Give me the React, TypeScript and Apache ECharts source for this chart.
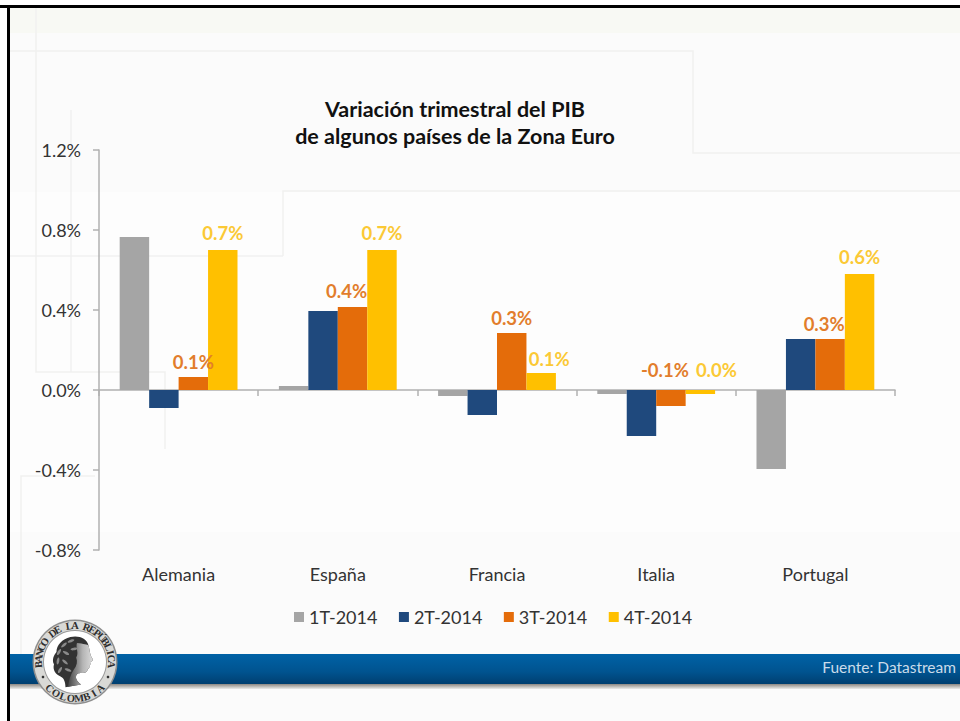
import React, { useEffect, useRef } from "react";
import * as echarts from "echarts";

const titleLines = ["Variación trimestral del PIB", "de algunos países de la Zona Euro"];
const countries = ["Alemania", "España", "Francia", "Italia", "Portugal"];
const seriesNames = ["1T-2014", "2T-2014", "3T-2014", "4T-2014"];
const t1 = [0.765, 0.02, -0.03, -0.02, -0.395];
const t2 = [-0.09, 0.395, -0.125, -0.23, 0.255];
const t3 = [0.065, 0.415, 0.285, -0.08, 0.255];
const t4 = [0.7, 0.7, 0.085, -0.02, 0.58];
const t3Labels = ["0.1%", "0.4%", "0.3%", "-0.1%", "0.3%"];
const t4Labels = ["0.7%", "0.7%", "0.1%", "0.0%", "0.6%"];
const source = "Fuente: Datastream";

const colors = ["#A5A5A5", "#1F497D", "#E46C0A", "#FFC000"];
const t3LabelOffsets = [[0, -1], [-6, -2], [0, -1], [-6, -6], [-6, -1]];
const t4LabelOffsets = [[0, -3], [0, -3], [8, 0], [16, -6], [0, -3]];
const FONT = "Lato";

const headPath = "M20 0C30 -3 40 2 42 12C44 20 43 24 47 32C48 35 46 36 44 37C45 40 44 42 43 43C44 45 42 47 41 47C41 51 39 53 35 53C31 53 28 53 27 57C26 62 29 66 33 70L14 74C14 66 12 60 8 58C2 55 -2 48 0 40C-3 34 0 26 3 22C3 12 10 3 20 0Z";
const facePath = "M28 9C36 10 41 12 42 12C44 20 43 24 47 32C48 35 46 36 44 37C45 40 44 42 43 43C44 45 42 47 41 47C41 51 39 53 35 53C31 53 28 53 27 57C26 62 29 66 33 70L17 73C18 64 20 56 24 48C28 42 29 36 27 30C31 24 26 16 28 9Z";
echarts.graphic.registerShape("bankHair", echarts.graphic.extendPath(headPath as any, {}) as any);
echarts.graphic.registerShape("bankFace", echarts.graphic.extendPath(facePath as any, {}) as any);

function faintLine(points: number[][]) {
  return {
    type: "polyline", z: -5, silent: true,
    shape: { points },
    style: { stroke: "#f1f1f0", lineWidth: 1.5, fill: "none" },
  };
}

function arcLetters(text: string, cx: number, cy: number, r: number, from: number, to: number, bottom: boolean) {
  const letters = Array.from(text);
  return letters.map((ch, i) => {
    const a = ((from + ((to - from) * i) / (letters.length - 1)) * Math.PI) / 180;
    return {
      type: "text", z: 30, silent: true,
      x: cx + r * Math.sin(a),
      y: bottom ? cy + r * Math.cos(a) : cy - r * Math.cos(a),
      rotation: bottom ? a : -a,
      style: {
        text: ch, fill: "#2e2e2e", font: "bold 10.5px 'Liberation Serif'",
        align: "center", verticalAlign: "middle",
      },
    };
  });
}

const leaves = [[64, 645, 40], [71, 641, 20], [59, 652, 60], [66, 653, -30], [58, 661, 80], [65, 662, -40], [60, 670, 60], [68, 670, -20], [74, 649, 10]];

export default function App() {
  const ref = useRef<HTMLDivElement>(null);
  useEffect(() => {
    document.body.style.margin = "0";
    document.body.style.background = "#fff";
    const chart = echarts.init(ref.current!, undefined, { renderer: "svg" });
    const cx = 75, cy = 662;
    const makeData = (vals: number[], labels?: string[], offsets?: number[][], color?: string) =>
      vals.map((v, i) =>
        labels
          ? {
              value: v,
              label: {
                show: true, position: "top", formatter: labels[i], offset: offsets![i],
                color, fontFamily: FONT, fontWeight: "bold", fontSize: 18.5,
              },
            }
          : v
      );
    const vals = [t1, t2, t3, t4];
    chart.setOption({
      animation: false,
      title: {
        text: titleLines.join("\n"), left: 450, top: 90, textAlign: "center",
        textStyle: { fontFamily: FONT, fontWeight: "bold", fontSize: 21.5, color: "#111", lineHeight: 27 },
      },
      legend: {
        data: seriesNames, left: 289, top: 603, itemWidth: 10, itemHeight: 10, icon: "rect", itemGap: 21.5,
        textStyle: { fontFamily: FONT, fontSize: 18, color: "#333", padding: [0, 0, 0, 0] },
      },
      grid: { left: 99, right: 65, top: 150, bottom: 171 },
      xAxis: [
        {
          type: "category", data: countries,
          axisLine: { onZero: true, lineStyle: { color: "#b0b0b0", width: 1.5 } },
          axisTick: { show: true, length: 6, lineStyle: { color: "#b0b0b0", width: 1.5 } },
          axisLabel: { show: false },
        },
        {
          type: "category", data: countries, position: "bottom",
          axisLine: { show: false, onZero: false }, axisTick: { show: false },
          axisLabel: { margin: 15, fontFamily: FONT, fontSize: 18, color: "#333" },
        },
      ],
      yAxis: {
        type: "value", min: -0.8, max: 1.2, interval: 0.4,
        axisLine: { show: true, lineStyle: { color: "#b0b0b0", width: 1.5 } },
        axisTick: { show: true, length: 6, lineStyle: { color: "#b0b0b0", width: 1.5 } },
        splitLine: { show: false },
        axisLabel: {
          margin: 18, fontFamily: FONT, fontSize: 18, color: "#333",
          formatter: (v: number) => v.toFixed(1) + "%",
        },
      },
      series: seriesNames.map((name, i) => ({
        name, type: "bar", xAxisIndex: 0, barGap: 0, barCategoryGap: "26%",
        itemStyle: { color: colors[i] },
        data:
          i === 2 ? makeData(vals[i], t3Labels, t3LabelOffsets, "#E27D2C")
          : i === 3 ? makeData(vals[i], t4Labels, t4LabelOffsets, "#FBC935")
          : vals[i],
      })),
      graphic: {
        elements: [
          { type: "rect", z: -10, silent: true, shape: { x: 8, y: 6, width: 952, height: 715 }, style: { fill: "#fbfbfb" } },
          {
            type: "rect", z: -9, silent: true, shape: { x: 8, y: 8, width: 952, height: 25 },
            style: { fill: "#f8f9f4" },
          },
          { type: "rect", z: -9, silent: true, shape: { x: 10, y: 192, width: 950, height: 340 }, style: { fill: "#fdfdfd" } },
          faintLine([[36, 8], [36, 372], [165, 372], [165, 449]]),
          faintLine([[10, 51], [693, 51], [693, 153], [960, 153]]),
          faintLine([[283, 256], [283, 191], [960, 191]]),
          faintLine([[10, 256], [283, 256]]),
          faintLine([[71, 110], [71, 372]]),
          faintLine([[95, 476], [21, 476], [21, 654]]),
          { type: "rect", z: 5, silent: true, shape: { x: 0, y: 5, width: 960, height: 3 }, style: { fill: "#000" } },
          { type: "rect", z: 5, silent: true, shape: { x: 7, y: 5, width: 3, height: 716 }, style: { fill: "#000" } },
          {
            type: "rect", z: 10, silent: true, shape: { x: 10, y: 684, width: 950, height: 5 },
            style: {
              fill: new echarts.graphic.LinearGradient(0, 0, 0, 1, [
                { offset: 0, color: "#8c8782" }, { offset: 1, color: "#ececea" },
              ]),
            },
          },
          {
            type: "rect", z: 11, silent: true, shape: { x: 10, y: 654, width: 950, height: 30 },
            style: {
              fill: new echarts.graphic.LinearGradient(0, 0, 0, 1, [
                { offset: 0, color: "#0062a6" }, { offset: 0.6, color: "#00538f" }, { offset: 1, color: "#003f70" },
              ]),
            },
          },
          {
            type: "text", z: 12, silent: true, x: 956, y: 667,
            style: { text: source, fill: "#cbdcea", font: `15.5px ${FONT}`, align: "right", verticalAlign: "middle" },
          },
          { type: "circle", z: 20, silent: true, shape: { cx, cy, r: 42.5 }, style: { fill: "#8f8f8f" } },
          { type: "circle", z: 21, silent: true, shape: { cx, cy, r: 41 }, style: { fill: "#d9d9d6" } },
          { type: "circle", z: 22, silent: true, shape: { cx, cy, r: 32 }, style: { fill: "#9a9a9a" } },
          { type: "circle", z: 23, silent: true, shape: { cx, cy, r: 31 }, style: { fill: "#ffffff" } },
          {
            type: "bankHair", z: 24, silent: true, x: 54, y: 637, scaleX: 0.82, scaleY: 0.68,
            style: { fill: "#333" },
          },
          {
            type: "bankFace", z: 25, silent: true, x: 54, y: 637, scaleX: 0.82, scaleY: 0.68,
            style: {
              fill: new echarts.graphic.LinearGradient(0, 0, 1, 0, [
                { offset: 0, color: "#444" }, { offset: 0.6, color: "#b5b5b5" }, { offset: 1, color: "#dcdcdc" },
              ]),
            },
          },
          ...leaves.map(([x, y, deg]) => ({
            type: "ellipse", z: 26, silent: true, x, y, rotation: (deg * Math.PI) / 180,
            shape: { cx: 0, cy: 0, rx: 3.5, ry: 1.3 }, style: { fill: "#8a8a8a" },
          })),
          { type: "circle", z: 30, silent: true, shape: { cx: 43, cy: 677, r: 1.3 }, style: { fill: "#333" } },
          { type: "circle", z: 30, silent: true, shape: { cx: 108, cy: 677, r: 1.3 }, style: { fill: "#333" } },
          ...arcLetters("BANCO DE LA REPÚBLICA", cx, cy, 36.5, -94, 94, false),
          ...arcLetters("COLOMBIA", cx, cy, 36.5, -44, 44, true),
        ],
      },
    } as any);
    return () => chart.dispose();
  }, []);
  return <div ref={ref} style={{ width: 960, height: 721 }} />;
}
